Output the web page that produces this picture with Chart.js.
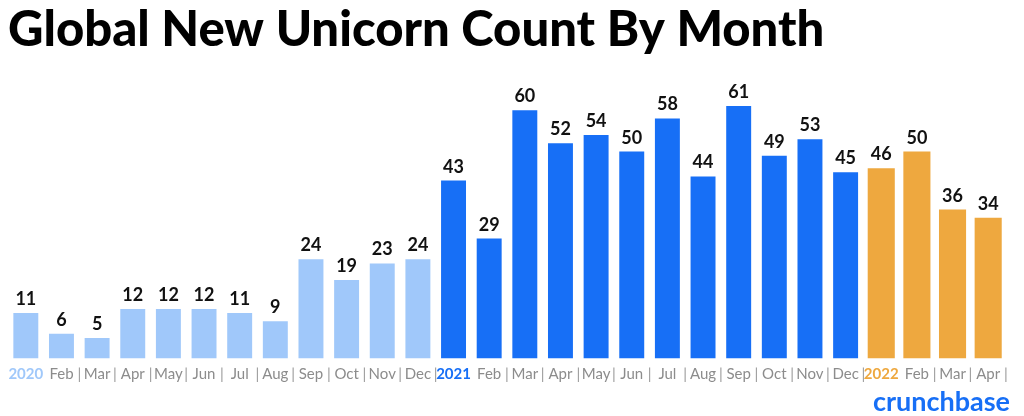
<!DOCTYPE html>
<html>
<head>
<meta charset="utf-8">
<script src="https://cdn.jsdelivr.net/npm/chart.js@4.4.1/dist/chart.umd.min.js"></script>
<style>
  html, body { margin: 0; padding: 0; background: #ffffff; }
  #wrap { width: 1024px; height: 416px; position: relative; }
</style>
</head>
<body>
<div id="wrap"><canvas id="c" width="1024" height="416"></canvas></div>
<script>
const months = ["2020","Feb","Mar","Apr","May","Jun","Jul","Aug","Sep","Oct","Nov","Dec",
                "2021","Feb","Mar","Apr","May","Jun","Jul","Aug","Sep","Oct","Nov","Dec",
                "2022","Feb","Mar","Apr"];
const values2020 = [11, 6, 5, 12, 12, 12, 11, 9, 24, 19, 23, 24];
const values2021 = [43, 29, 60, 52, 54, 50, 58, 44, 61, 49, 53, 45];
const values2022 = [46, 50, 36, 34];
const yearColors = { "2020": "#a0c8fa", "2021": "#176ff6", "2022": "#eea83f" };
const titleText = "Global New Unicorn Count By Month";
const brandText = "crunchbase";

const pad = (arr, before, total) => {
  const out = new Array(before).fill(null).concat(arr);
  while (out.length < total) out.push(null);
  return out;
};
const N = months.length;
const isYear = (s) => /^\d{4}$/.test(s);

const valueLabels = {
  id: 'valueLabels',
  afterDatasetsDraw(chart) {
    const ctx = chart.ctx;
    ctx.save();
    ctx.font = 'bold 18px Lato, "Open Sans", sans-serif';
    ctx.fillStyle = '#111111';
    ctx.textAlign = 'center';
    ctx.textBaseline = 'alphabetic';
    chart.data.datasets.forEach((ds, di) => {
      const meta = chart.getDatasetMeta(di);
      meta.data.forEach((el, i) => {
        const v = ds.data[i];
        if (v === null || v === undefined) return;
        ctx.fillText(String(v), el.x, el.y - 8);
      });
    });
    ctx.restore();
  }
};

const pipesAndBrand = {
  id: 'pipesAndBrand',
  afterDraw(chart) {
    const xs = chart.scales.x;
    const ctx = chart.ctx;
    ctx.save();
    ctx.font = '15px Lato, "Open Sans", sans-serif';
    ctx.fillStyle = '#9a9a9a';
    ctx.textAlign = 'center';
    ctx.textBaseline = 'middle';
    const y = chart.chartArea.bottom + 16;
    for (let i = 0; i < N; i++) {
      if (isYear(months[i])) continue;
      const x0 = xs.getPixelForValue(i);
      const x1 = i < N - 1 ? xs.getPixelForValue(i + 1) : x0 + (x0 - xs.getPixelForValue(i - 1));
      ctx.fillText('|', (x0 + x1) / 2, y);
    }
    ctx.font = 'bold 27px Lato, "Open Sans", sans-serif';
    ctx.fillStyle = '#176ff6';
    ctx.textAlign = 'right';
    ctx.textBaseline = 'middle';
    ctx.fillText(brandText, 1010, 402);
    ctx.restore();
  }
};

new Chart(document.getElementById('c'), {
  type: 'bar',
  data: {
    labels: months,
    datasets: [
      { data: pad(values2020, 0, N), backgroundColor: yearColors["2020"], barPercentage: 0.70 },
      { data: pad(values2021, 12, N), backgroundColor: yearColors["2021"], barPercentage: 0.70 },
      { data: pad(values2022, 24, N), backgroundColor: yearColors["2022"], barPercentage: 0.76 }
    ]
  },
  options: {
    responsive: false,
    animation: false,
    devicePixelRatio: 1,
    layout: { padding: { left: 8, right: 18, top: 0, bottom: 26.4 } },
    datasets: { bar: { grouped: false, categoryPercentage: 1.0, skipNull: true } },
    plugins: {
      legend: { display: false },
      tooltip: { enabled: false },
      title: {
        display: true, text: titleText, align: 'start', color: '#000000',
        font: { family: 'Lato, "Open Sans", sans-serif', size: 49, weight: '900' },
        padding: { top: 1, bottom: 9 }
      }
    },
    scales: {
      x: {
        grid: { display: false, drawTicks: false },
        border: { display: false },
        ticks: {
          autoSkip: false, maxRotation: 0, padding: 6.5,
          color: (c) => yearColors[months[c.index]] || '#8c8c8c',
          font: (c) => ({ family: 'Lato, "Open Sans", sans-serif', size: 15,
                          weight: isYear(months[c.index]) ? 'bold' : 'normal' })
        }
      },
      y: { display: false, min: 0, max: 70 }
    }
  },
  plugins: [valueLabels, pipesAndBrand]
});
</script>
</body>
</html>
